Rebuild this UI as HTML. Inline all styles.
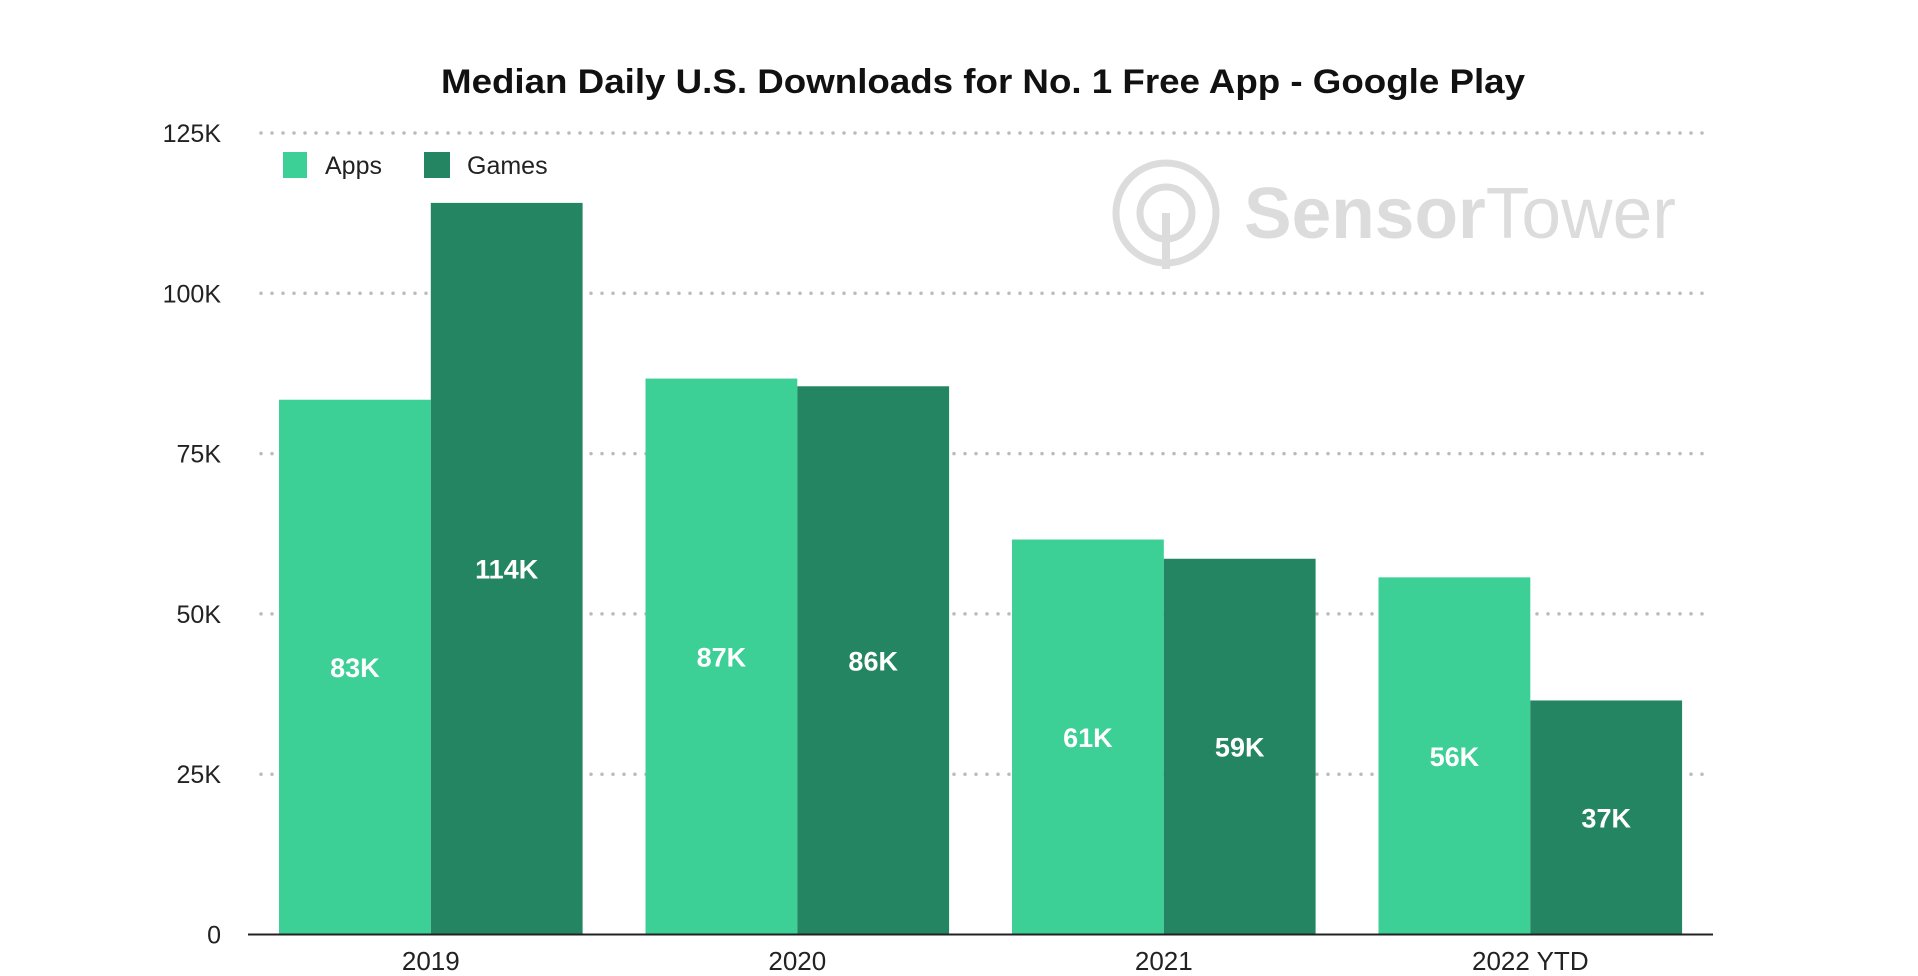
<!DOCTYPE html>
<html><head><meta charset="utf-8"><style>
html,body{margin:0;padding:0;background:#fff;}
svg{display:block;font-family:"Liberation Sans",Arial,sans-serif;}
</style></head><body>
<svg id="chart" width="1918" height="976" viewBox="0 0 1918 976">
<text x="983" y="93" text-anchor="middle" font-size="34" font-weight="bold" fill="#111" textLength="1084" lengthAdjust="spacingAndGlyphs">Median Daily U.S. Downloads for No. 1 Free App - Google Play</text>
<g opacity="0.5">
<circle cx="1166" cy="213" r="50" fill="none" stroke="#bbb" stroke-width="7"/>
<circle cx="1166" cy="213" r="26" fill="none" stroke="#bbb" stroke-width="7"/>
<rect x="1162" y="213" width="8" height="56" fill="#bbb"/>
<text x="1244" y="238" font-size="72" font-weight="bold" fill="#bbb" textLength="432" lengthAdjust="spacingAndGlyphs">Sensor<tspan font-weight="normal">Tower</tspan></text>
</g>
<g id="grid"></g>
<g id="bars"></g>
<g id="labels"></g>
<line x1="248" y1="934.5" x2="1713" y2="934.5" stroke="#222" stroke-width="2"/>
<g>
<rect x="283" y="152" width="24" height="26" fill="#3ccf96"/>
<text x="325" y="174" font-size="25" fill="#222">Apps</text>
<rect x="424" y="152" width="26" height="26" fill="#238562"/>
<text x="467" y="174" font-size="25" fill="#222">Games</text>
</g>
</svg>
<script>
const categories=["2019","2020","2021","2022 YTD"];
const appsValues=[83.4,86.7,61.6,55.7];
const gamesValues=[114.1,85.5,58.6,36.5];
const appsLabels=["83K","87K","61K","56K"];
const gamesLabels=["114K","86K","59K","37K"];
const yTicks=[0,25,50,75,100,125];
const yTickLabels=["0","25K","50K","75K","100K","125K"];
const NS="http://www.w3.org/2000/svg";
const y0=934.5,yTop=133,yMax=125;
function y(v){return y0-(v/yMax)*(y0-yTop);}
const gx0=279,step=366.5,bw=151.8;
function x(i){return gx0+i*step;}
function mk(tag,attrs,parent){const e=document.createElementNS(NS,tag);for(const k in attrs)e.setAttribute(k,attrs[k]);parent.appendChild(e);return e;}
const grid=document.getElementById('grid'),bars=document.getElementById('bars'),labels=document.getElementById('labels');
yTicks.forEach((t,i)=>{
  if(t>0){const l=mk('line',{x1:261,x2:1706,y1:y(t),y2:y(t),stroke:'#bbb','stroke-width':3.5,'stroke-dasharray':'0 11','stroke-linecap':'round'},grid);
  
  }
  const tx=mk('text',{x:221,y:y(t)+9,'text-anchor':'end','font-size':25,fill:'#222'},grid);
  tx.textContent=yTickLabels[i];
  
  
});
categories.forEach((c,i)=>{
  const a=mk('rect',{x:x(i),y:y(appsValues[i]),width:bw,height:y0-y(appsValues[i]),fill:'#3ccf96'},bars);
  
  
  const g=mk('rect',{x:x(i)+bw,y:y(gamesValues[i]),width:bw,height:y0-y(gamesValues[i]),fill:'#238562'},bars);
  
  
  const la=mk('text',{x:x(i)+bw/2,y:(y(appsValues[i])+y0)/2+10,'text-anchor':'middle','font-size':27,'font-weight':'bold',fill:'#fff'},labels);
  la.textContent=appsLabels[i];
  
  
  const lg=mk('text',{x:x(i)+bw*1.5,y:(y(gamesValues[i])+y0)/2+10,'text-anchor':'middle','font-size':27,'font-weight':'bold',fill:'#fff'},labels);
  lg.textContent=gamesLabels[i];
  
  
  const cx=mk('text',{x:x(i)+bw,y:976-6,'text-anchor':'middle','font-size':26,fill:'#222'},labels);
  cx.textContent=c;
  
  
});
</script>
</body></html>
